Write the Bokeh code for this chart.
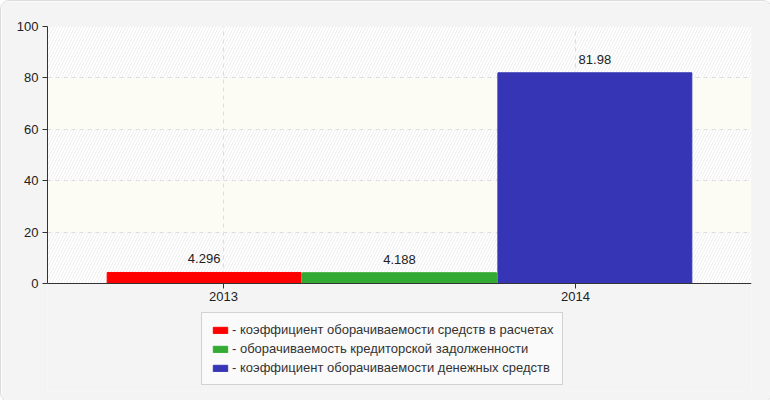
from bokeh.plotting import figure
from bokeh.models import Range1d, FixedTicker, BoxAnnotation, Legend, LegendItem, ColumnDataSource
from bokeh.embed import file_html
from bokeh.resources import INLINE

categories = ["2013", "2014"]
series_names = [
    "- коэффициент оборачиваемости средств в расчетах",
    "- оборачиваемость кредиторской задолженности",
    "- коэффициент оборачиваемости денежных средств",
]
series_values = [4.296, 4.188, 81.98]
series_labels = ["4.296", "4.188", "81.98"]
series_colors = ["#ff0000", "#33aa33", "#3535b5"]
y_ticks = [0, 20, 40, 60, 80, 100]

FONT = "Liberation Sans"

# layout (pixels)
FRAME_TOP, ZERO_Y, FRAME_BOTTOM = 25, 282, 390
Y_MAX = 100
px_per_unit = (ZERO_Y - FRAME_TOP) / Y_MAX
y_start = -(FRAME_BOTTOM - ZERO_Y) / px_per_unit

p = figure(frame_width=704, frame_height=FRAME_BOTTOM - FRAME_TOP, output_backend="svg",
           toolbar_location=None,
           x_range=Range1d(0, len(categories)), y_range=Range1d(y_start, Y_MAX),
           min_border_left=46, min_border_right=20, min_border_top=FRAME_TOP, min_border_bottom=10)
p.border_fill_color = "#f4f4f4"
p.background_fill_color = "#f4f4f4"
p.outline_line_color = None
p.styles = {"border": "1px solid #dcdcdc", "border-radius": "9px", "overflow": "hidden"}

# plot area (0..100), pale band colour
p.add_layout(BoxAnnotation(bottom=0, top=Y_MAX, fill_color="#fcfcf5", fill_alpha=1,
                           line_color="#dddddd", line_width=1, level="image"))

# vertical dashed grid lines at category centres, limited to the value range
cat_x = [i + 0.5 for i in range(len(categories))]
p.segment(x0=cat_x, x1=cat_x, y0=[0] * len(cat_x), y1=[Y_MAX] * len(cat_x),
          line_color="#dddddd", line_dash="4 4", line_width=1)

# bars
n = len(series_values)
bar_w = 0.555
centers = [len(categories) / 2 + (i - (n - 1) / 2) * bar_w for i in range(n)]
src = ColumnDataSource(dict(x=centers, top=series_values, label=series_labels))
renderers = []
for i in range(n):
    r = p.vbar(x=[centers[i]], top=[series_values[i]], bottom=0, width=bar_w - 0.004,
               fill_color=series_colors[i], line_color=series_colors[i])
    renderers.append(r)

p.text(x="x", y="top", text="label", source=src, text_align="center", text_baseline="bottom",
       y_offset=-9, text_font_size="13px", text_color="#222222",
       text_font={"value": FONT})

# axes
p.xaxis.fixed_location = 0
p.yaxis.bounds = (0, Y_MAX)
p.yaxis.ticker = FixedTicker(ticks=y_ticks)
p.xaxis.ticker = FixedTicker(ticks=cat_x)
p.xaxis.major_label_overrides = {x: c for x, c in zip(cat_x, categories)}
for ax in (p.xaxis, p.yaxis):
    ax.axis_line_color = "#333333"
    ax.major_tick_line_color = "#333333"
    ax.major_tick_out = 5
    ax.major_tick_in = 0
    ax.minor_tick_line_color = None
    ax.major_label_text_font = FONT
    ax.major_label_text_font_size = "13px"
    ax.major_label_text_color = "#222222"
p.yaxis.major_label_standoff = 4
p.xaxis.major_label_standoff = 3

# grids: hatched bands
p.xgrid.visible = False
p.ygrid.ticker = FixedTicker(ticks=y_ticks)
p.ygrid.grid_line_color = "#dddddd"
p.ygrid.grid_line_dash = "4 4"
p.ygrid.grid_line_width = 1
p.ygrid.band_fill_color = "#ffffff"
p.ygrid.band_fill_alpha = 1
p.ygrid.band_hatch_pattern = "/"
p.ygrid.band_hatch_color = "#eeeeee"
p.ygrid.band_hatch_scale = 6
p.ygrid.band_hatch_weight = 1

legend = Legend(items=[LegendItem(label=series_names[i], renderers=[renderers[i]]) for i in range(n)],
                location=(154, 6))
legend.label_text_font = FONT
legend.label_text_font_size = "13px"
legend.label_text_color = "#333333"
legend.glyph_width = 18
legend.glyph_height = 8
legend.label_standoff = 3
legend.spacing = 4
legend.padding = 9
legend.margin = 0
legend.border_line_color = "#aaaaaa"
legend.background_fill_color = "#fafafa"
legend.background_fill_alpha = 1
legend.label_height = 15
p.add_layout(legend, "center")

open("out.html", "w").write(file_html(p, INLINE))
